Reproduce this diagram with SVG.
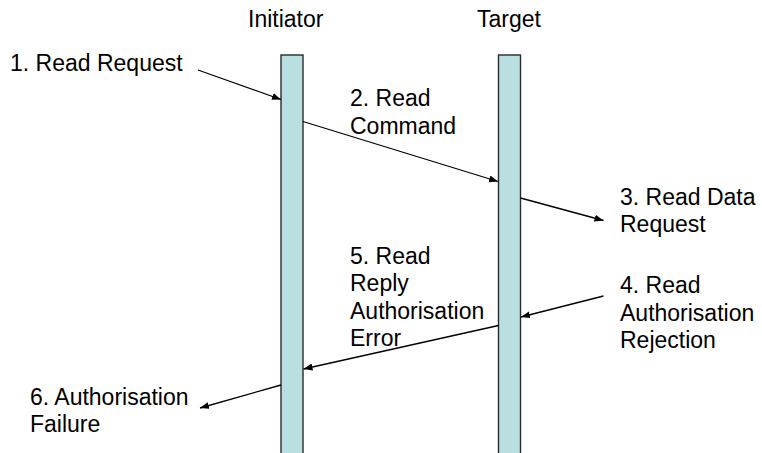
<svg xmlns="http://www.w3.org/2000/svg" width="762" height="453" viewBox="0 0 762 453">
<style>
text{font-family:"Liberation Sans",Arial,sans-serif;font-size:23px;fill:#000}
.bar{fill:#B9DFE1;stroke:#2a2a2a;stroke-width:1.4}
.arr{stroke:#000;stroke-width:1.3;fill:none;marker-end:url(#ah)}
</style>
<defs>
<marker id="ah" markerUnits="userSpaceOnUse" markerWidth="10" markerHeight="8" refX="9" refY="3.5" orient="auto">
<path d="M0,0 L9,3.5 L0,7 z" fill="#000"/>
</marker>
</defs>
<g id="initiator">
<rect class="bar" x="281" y="55" width="22" height="399"/>
<text x="248" y="27">Initiator</text>
</g>
<g id="target">
<rect class="bar" x="498.5" y="55" width="22" height="399"/>
<text x="477" y="27">Target</text>
</g>
<g id="labels">
<text x="10" y="71">1. Read Request</text>
<text x="350" y="106">2. Read</text>
<text x="350" y="133.5">Command</text>
<text x="620" y="205">3. Read Data</text>
<text x="620" y="232">Request</text>
<text x="620" y="293">4. Read</text>
<text x="620" y="320.5">Authorisation</text>
<text x="620" y="348">Rejection</text>
<text x="350" y="263.5">5. Read</text>
<text x="350" y="291">Reply</text>
<text x="350" y="318.5">Authorisation</text>
<text x="350" y="346">Error</text>
<text x="30" y="405">6. Authorisation</text>
<text x="30" y="432">Failure</text>
</g>
<g id="connectors">
<line class="arr" x1="198" y1="70" x2="281" y2="99.5"/>
<line class="arr" x1="303" y1="121.5" x2="498" y2="181.5"/>
<line class="arr" x1="520.5" y1="198" x2="603.5" y2="220.5"/>
<line class="arr" x1="603.5" y1="296" x2="521" y2="317"/>
<line class="arr" x1="498.5" y1="325.5" x2="303.5" y2="369"/>
<line class="arr" x1="281" y1="385" x2="200" y2="408"/>
</g>
</svg>
